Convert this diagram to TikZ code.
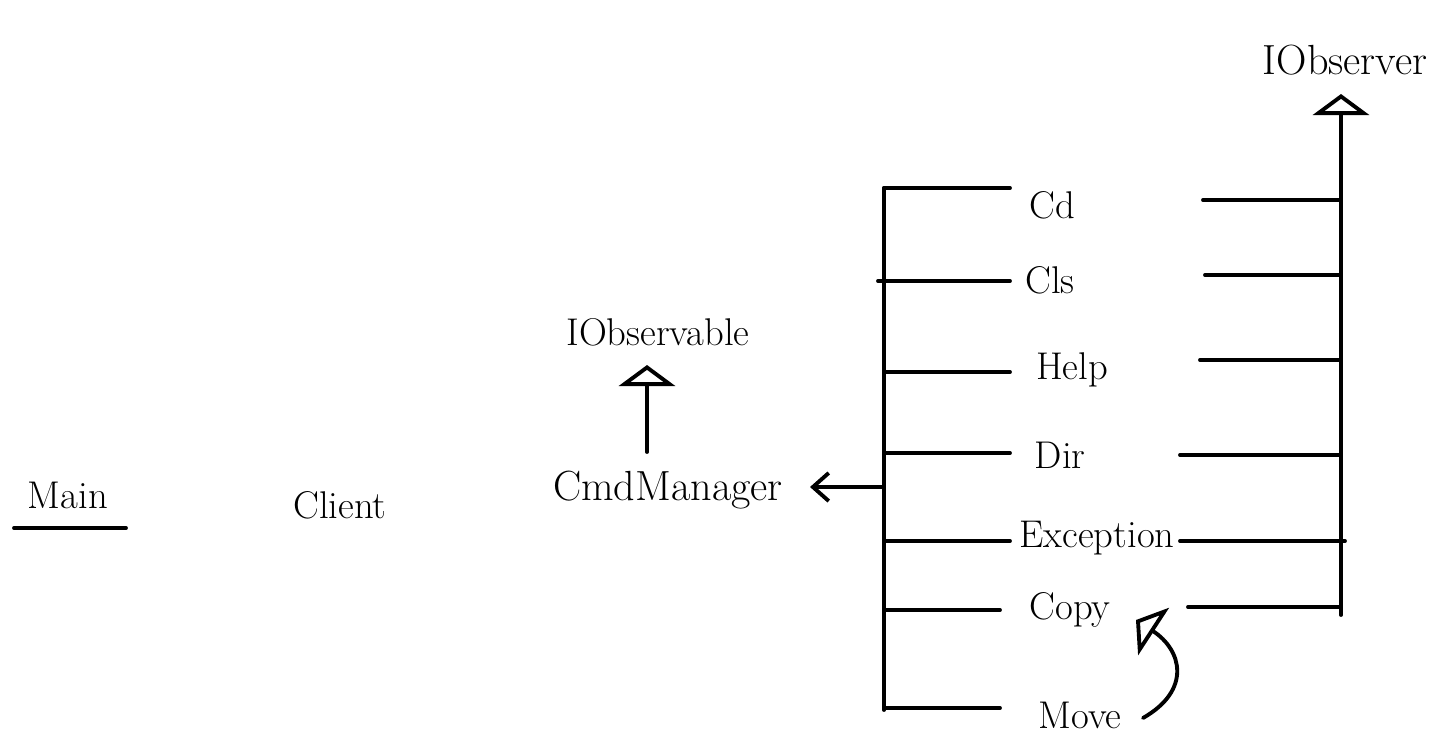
\documentclass[tikz,border=0pt]{standalone}
\usetikzlibrary{arrows.meta}

\tikzset{
	hand/.style={font=\fontsize{22}{26}\selectfont, inner sep=0pt},
	inherit/.style={-{Triangle[open,width=32pt,length=12pt]}},
	uses/.style={-{Straight Barb[length=9pt,width=16pt]}},
}

\begin{document}
\begin{tikzpicture}[x=0.02cm, y=-0.02cm, line width=2.2pt, line cap=round, line join=round]
	\useasboundingbox (0,0) rectangle (1440,750);

	% left side
	\node[hand] (main) at (68,495) {Main};
	\coordinate (main-l) at (14,528);
	\coordinate (main-r) at (126,528);
	\draw (main-l) -- (main-r);
	\node[hand] (client) at (340,505) {Client};

	\node[hand, font=\fontsize{24}{28}\selectfont] (mgr) at (668,490) {CmdManager};
	\node[hand] (obsable) at (658,332) {IObservable};
	\coordinate (mgr-top) at (647,452);
	\coordinate (obsable-tip) at (647,365);
	\draw[inherit] (mgr-top) -- (obsable-tip);

	% command bus
	\coordinate (bus-top) at (884,188);
	\coordinate (bus-bot) at (884,710);
	\coordinate (bus-mid) at (884,487);
	\coordinate (mgr-tip) at (810,487);
	\draw (bus-top) -- (bus-bot);
	\draw[uses] (bus-mid) -- (mgr-tip);

	\node[hand, font=\fontsize{24}{28}\selectfont] (obs) at (1345,60) {IObserver};
	\coordinate (obs-bot) at (1341,615);
	\coordinate (obs-tip) at (1341,94);
	\draw[inherit] (obs-bot) -- (obs-tip);

	% commands: name/label/x/y/left line y/left start/left end/right start/right end/right y
	\foreach \n/\t/\x/\y/\ly/\la/\lb/\ra/\rb/\ry in {
		cd/Cd/1052/205/188/884/1010/1203/1341/200,
		cls/Cls/1050/280/281/878/1010/1205/1341/275,
		help/Help/1072/370/372/884/1010/1200/1341/360,
		dir/Dir/1060/455/453/884/1010/1180/1341/455,
		exc/Exception/1097/538/541/884/1010/1180/1345/541,
		copy/Copy/1070/610/610/884/1000/1188/1341/607} {
		\node[hand] (\n) at (\x,\y) {\t};
		\coordinate (\n-a) at (\la,\ly);
		\coordinate (\n-b) at (\lb,\ly);
		\coordinate (\n-c) at (\ra,\ry);
		\coordinate (\n-d) at (\rb,\ry);
		\draw (\n-a) -- (\n-b);
		\draw (\n-c) -- (\n-d);
	}

	\node[hand] (move) at (1080,715) {Move};
	\coordinate (move-a) at (884,708);
	\coordinate (move-b) at (1000,708);
	\draw (move-a) -- (move-b);

	% move reuses copy
	\coordinate (move-e) at (1143,718);
	\coordinate (copy-e) at (1136,620);
	\draw[inherit] (move-e) .. controls (1192,690) and (1182,650) .. (copy-e);
\end{tikzpicture}
\end{document}
